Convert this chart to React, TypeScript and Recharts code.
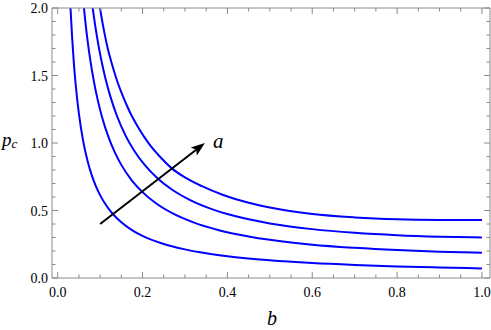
import React from 'react';
import {
  LineChart,
  Line,
  XAxis,
  YAxis,
  ReferenceLine,
} from 'recharts';

// values (b on x, p_c on y), one curve per a
const curve1B = [0.0302, 0.034, 0.038, 0.043, 0.05, 0.06, 0.07, 0.08, 0.09, 0.1, 0.115, 0.13, 0.15, 0.175, 0.2, 0.25, 0.3, 0.35, 0.4, 0.5, 0.6, 0.7, 0.8, 0.9, 1.0];
const curve1P = [2.0, 1.784, 1.597, 1.413, 1.217, 1.016, 0.872, 0.764, 0.681, 0.614, 0.535, 0.474, 0.413, 0.355, 0.312, 0.252, 0.212, 0.183, 0.161, 0.131, 0.111, 0.097, 0.086, 0.078, 0.071];

const curve2B = [0.0619, 0.066, 0.071, 0.077, 0.085, 0.095, 0.105, 0.12, 0.135, 0.15, 0.175, 0.2, 0.23, 0.27, 0.32, 0.38, 0.45, 0.5, 0.6, 0.7, 0.8, 0.9, 1.0];
const curve2P = [2.0, 1.877, 1.746, 1.612, 1.462, 1.31, 1.187, 1.042, 0.929, 0.838, 0.722, 0.636, 0.557, 0.48, 0.412, 0.354, 0.308, 0.283, 0.247, 0.224, 0.207, 0.195, 0.187];

const curve3B = [0.0825, 0.088, 0.095, 0.103, 0.113, 0.125, 0.14, 0.16, 0.18, 0.205, 0.237, 0.27, 0.31, 0.36, 0.42, 0.5, 0.6, 0.7, 0.8, 0.9, 1.0];
const curve3P = [2.0, 1.878, 1.743, 1.611, 1.473, 1.336, 1.198, 1.055, 0.945, 0.838, 0.734, 0.654, 0.581, 0.514, 0.457, 0.404, 0.362, 0.335, 0.317, 0.306, 0.3];

const curve4B = [0.0997, 0.105, 0.111, 0.118, 0.127, 0.138, 0.152, 0.17, 0.19, 0.215, 0.245, 0.269, 0.3, 0.34, 0.39, 0.45, 0.5, 0.6, 0.7, 0.8, 0.9, 1.0];
const curve4P = [2.0, 1.902, 1.803, 1.7, 1.595, 1.48, 1.36, 1.23, 1.115, 0.995, 0.885, 0.812, 0.745, 0.68, 0.615, 0.557, 0.522, 0.474, 0.449, 0.435, 0.43, 0.429];

const xTicks = [0, 0.05, 0.1, 0.15, 0.2, 0.25, 0.3, 0.35, 0.4, 0.45, 0.5, 0.55, 0.6, 0.65, 0.7, 0.75, 0.8, 0.85, 0.9, 0.95, 1.0];
const yTicks = [0, 0.1, 0.2, 0.3, 0.4, 0.5, 0.6, 0.7, 0.8, 0.9, 1.0, 1.1, 1.2, 1.3, 1.4, 1.5, 1.6, 1.7, 1.8, 1.9, 2.0];

// arrow in data coords and its label
const arrowFrom = { x: 0.1, y: 0.4 };
const arrowTo = { x: 0.347, y: 1.0 };
const arrowLabel = 'a';

const FRAME = '#8a8a8a';
const CURVE = '#0000ff';
const serif = { fontFamily: '"Liberation Serif", "DejaVu Serif", serif' };

const toPoints = (bs: number[], ps: number[]) => bs.map((b, i) => ({ b, p: ps[i] }));

const series = [
  toPoints(curve1B, curve1P),
  toPoints(curve2B, curve2P),
  toPoints(curve3B, curve3P),
  toPoints(curve4B, curve4P),
];

const isMajor = (v: number, step: number) => Math.abs(v / step - Math.round(v / step)) < 1e-6;

const BottomTick = (props: any) => {
  const { x, y, payload } = props;
  const v = payload.value as number;
  const major = isMajor(v, 0.2);
  return (
    <g>
      <line x1={x} y1={y} x2={x} y2={y - (major ? 6 : 3.5)} stroke={FRAME} />
      {major && (
        <text x={x} y={y + 19} textAnchor="middle" style={serif} fontSize={14} fill="#000">
          {v.toFixed(1)}
        </text>
      )}
    </g>
  );
};

const TopTick = (props: any) => {
  const { x, y, payload } = props;
  const major = isMajor(payload.value, 0.2);
  return <line x1={x} y1={y} x2={x} y2={y + (major ? 6 : 3.5)} stroke={FRAME} />;
};

const LeftTick = (props: any) => {
  const { x, y, payload } = props;
  const v = payload.value as number;
  const major = isMajor(v, 0.5);
  return (
    <g>
      <line x1={x} y1={y} x2={x + (major ? 6 : 3.5)} y2={y} stroke={FRAME} />
      {major && (
        <text x={x - 4} y={y + 5} textAnchor="end" style={serif} fontSize={14} fill="#000">
          {v.toFixed(1)}
        </text>
      )}
    </g>
  );
};

const RightTick = (props: any) => {
  const { x, y, payload } = props;
  const major = isMajor(payload.value, 0.5);
  return <line x1={x} y1={y} x2={x - (major ? 6 : 3.5)} y2={y} stroke={FRAME} />;
};

const Arrow = (props: any) => {
  const { x1, y1, x2, y2 } = props;
  const dx = x2 - x1;
  const dy = y2 - y1;
  const len = Math.sqrt(dx * dx + dy * dy);
  const ux = dx / len;
  const uy = dy / len;
  const headLen = 14;
  const headHalf = 5;
  const bx = x2 - ux * headLen;
  const by = y2 - uy * headLen;
  const pts = [
    `${x2},${y2}`,
    `${bx - uy * headHalf},${by + ux * headHalf}`,
    `${bx + ux * 3},${by + uy * 3}`,
    `${bx + uy * headHalf},${by - ux * headHalf}`,
  ].join(' ');
  return (
    <g>
      <line x1={x1} y1={y1} x2={bx + ux * 3} y2={by + uy * 3} stroke="#000" strokeWidth={2} />
      <polygon points={pts} fill="#000" />
      <text x={x2 + 8} y={y2 + 5} style={serif} fontStyle="italic" fontSize={21} fill="#000">
        {arrowLabel}
      </text>
    </g>
  );
};

export default function App() {
  const xDomain: [number, number] = [-0.0134, 1.019];
  const yDomain: [number, number] = [0, 2];
  return (
    <div style={{ position: 'absolute', left: 0, top: 0, width: 491, height: 330, background: '#fff' }}>
      <LineChart width={491} height={330} margin={{ top: 7, right: 0, bottom: 51, left: 51 }}>
        <XAxis
          dataKey="b"
          type="number"
          domain={xDomain}
          allowDataOverflow
          ticks={xTicks}
          interval={0}
          tickSize={0}
          tickMargin={0}
          tickLine={false}
          height={1}
          axisLine={{ stroke: FRAME }}
          tick={<BottomTick />}
        />
        <XAxis
          xAxisId="top"
          orientation="top"
          dataKey="b"
          type="number"
          domain={xDomain}
          allowDataOverflow
          ticks={xTicks}
          interval={0}
          tickSize={0}
          tickMargin={0}
          tickLine={false}
          height={1}
          axisLine={{ stroke: FRAME }}
          tick={<TopTick />}
        />
        <YAxis
          type="number"
          domain={yDomain}
          allowDataOverflow
          ticks={yTicks}
          interval={0}
          tickSize={0}
          tickMargin={0}
          tickLine={false}
          width={1}
          axisLine={{ stroke: FRAME }}
          tick={<LeftTick />}
        />
        <YAxis
          yAxisId="right"
          orientation="right"
          type="number"
          domain={yDomain}
          allowDataOverflow
          ticks={yTicks}
          interval={0}
          tickSize={0}
          tickMargin={0}
          tickLine={false}
          width={1}
          axisLine={{ stroke: FRAME }}
          tick={<RightTick />}
        />
        {series.map((data, i) => (
          <Line
            key={i}
            data={data}
            dataKey="p"
            type="monotone"
            stroke={CURVE}
            strokeWidth={2}
            dot={false}
            activeDot={false}
            isAnimationActive={false}
          />
        ))}
        <ReferenceLine
          segment={[arrowFrom, arrowTo]}
          ifOverflow="visible"
          shape={<Arrow />}
        />
      </LineChart>
      <svg width={491} height={330} style={{ position: 'absolute', left: 0, top: 0, pointerEvents: 'none' }}>
        <text x={2} y={146} style={serif} fontStyle="italic" fontSize={19} fill="#000">
          p
          <tspan fontSize={13} dy={2}>c</tspan>
        </text>
        <text x={272} y={325} textAnchor="middle" style={serif} fontStyle="italic" fontSize={20} fill="#000">
          b
        </text>
      </svg>
    </div>
  );
}
